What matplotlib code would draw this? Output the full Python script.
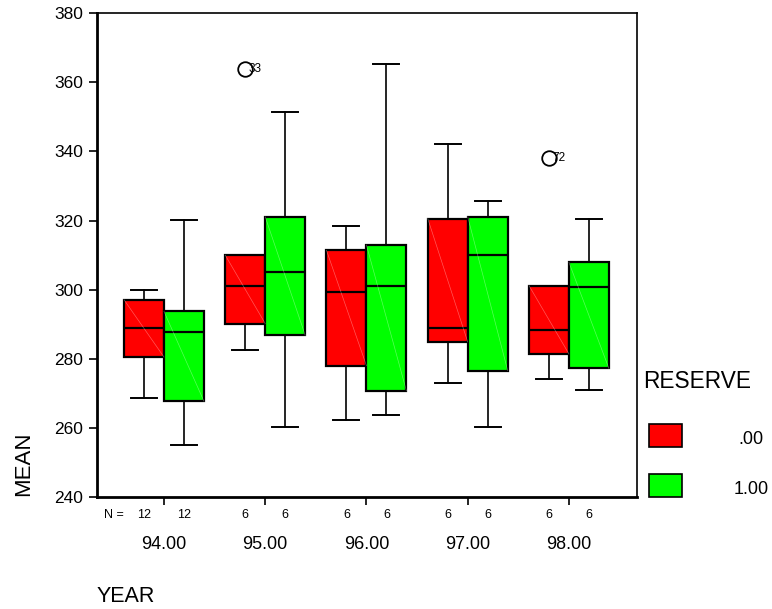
import matplotlib.pyplot as plt

plt.rcParams['font.family'] = ['Liberation Sans', 'DejaVu Sans']

years = ['94.00', '95.00', '96.00', '97.00', '98.00']
groups = ['.00', '1.00']
colors = ['#ff0000', '#00ff00']
counts = [[12, 12], [6, 6], [6, 6], [6, 6], [6, 6]]

# whislo, q1, median, q3, whishi per year for reserve .00 and 1.00
red_stats = [
    [268.7, 280.5, 288.8, 297.1, 300.0],
    [282.5, 290.2, 301.0, 310.0, 310.0],
    [262.2, 278.0, 299.2, 311.4, 318.3],
    [273.1, 284.9, 288.8, 320.6, 342.1],
    [274.2, 281.4, 288.4, 301.2, 301.2],
]
green_stats = [
    [255.0, 267.7, 287.9, 293.7, 320.2],
    [260.3, 286.8, 305.0, 321.1, 351.4],
    [263.8, 270.7, 301.2, 312.9, 365.2],
    [260.3, 276.6, 310.0, 321.1, 325.6],
    [271.0, 277.2, 300.7, 307.9, 320.6],
]
outliers_red = {1: (364.0, '33'), 4: (338.2, '72')}

fig = plt.figure(figsize=(7.72, 6.09), dpi=100)
ax = fig.add_axes([0.1256, 0.1839, 0.6995, 0.7943])

w = 0.395
for g, (stats_list, col) in enumerate([(red_stats, colors[0]), (green_stats, colors[1])]):
    off = -w / 2 if g == 0 else w / 2
    bstats = []
    for i, s in enumerate(stats_list):
        fl = []
        if g == 0 and i in outliers_red:
            fl = [outliers_red[i][0]]
        bstats.append(dict(whislo=s[0], q1=s[1], med=s[2], q3=s[3], whishi=s[4], fliers=fl))
    pos = [i + off for i in range(len(years))]
    ax.bxp(bstats, positions=pos, widths=w, patch_artist=True, manage_ticks=False,
           boxprops=dict(facecolor=col, edgecolor='black', linewidth=1.6),
           medianprops=dict(color='black', linewidth=1.6),
           whiskerprops=dict(color='black', linewidth=1.2),
           capprops=dict(color='black', linewidth=1.4),
           capwidths=w * 0.65,
           flierprops=dict(marker='o', markerfacecolor='none', markeredgecolor='black',
                           markersize=10.5, markeredgewidth=1.3))
    # faint diagonal line inside each box
    for i, s in enumerate(stats_list):
        ax.plot([pos[i] - w / 2, pos[i] + w / 2], [s[3], s[1]], color='white',
                lw=0.5, alpha=0.35, zorder=3)
    for i, c in enumerate(counts):
        ax.text(pos[i], -0.038, str(c[g]), transform=ax.get_xaxis_transform(),
                ha='center', va='center', fontsize=9)

for i, (v, lab) in outliers_red.items():
    ax.text(i - w / 2 + 0.035, v, lab, fontsize=8.5, va='center', ha='left')

ax.text(-0.59, -0.038, 'N =', transform=ax.get_xaxis_transform(),
        ha='left', va='center', fontsize=9)

ax.set_xlim(-0.662, 4.672)
ax.set_ylim(240, 380)
ax.set_yticks(range(240, 381, 20))
ax.set_xticks(range(len(years)))
ax.set_xticklabels(years, fontsize=13)
ax.tick_params(axis='x', length=6, width=1.2, pad=22)
ax.tick_params(axis='y', length=6, width=1.2, labelsize=12.5, pad=4)
for side in ['left', 'bottom']:
    ax.spines[side].set_linewidth(2)
for side in ['top', 'right']:
    ax.spines[side].set_linewidth(1.2)

fig.text(126 / 772, 1 - 597 / 609, 'YEAR', fontsize=15.5, ha='center', va='center')
fig.text(24 / 772, 1 - 464 / 609, 'MEAN', fontsize=16, rotation=90, ha='center', va='center')

# legend
fig.text(643 / 772, 1 - 382 / 609, 'RESERVE', fontsize=16.3, ha='left', va='center')
for k, (lab, col) in enumerate(zip(groups, colors)):
    yc = 436 + k * 50
    fig.patches.append(plt.Rectangle((649 / 772, 1 - (yc + 11) / 609), 33 / 772, 23 / 609,
                                     transform=fig.transFigure,
                                     facecolor=col, edgecolor='black', linewidth=1.2))
    fig.text(751 / 772, 1 - (yc + 3) / 609, lab, fontsize=13, ha='center', va='center')

fig.savefig('out.png', dpi=100)
